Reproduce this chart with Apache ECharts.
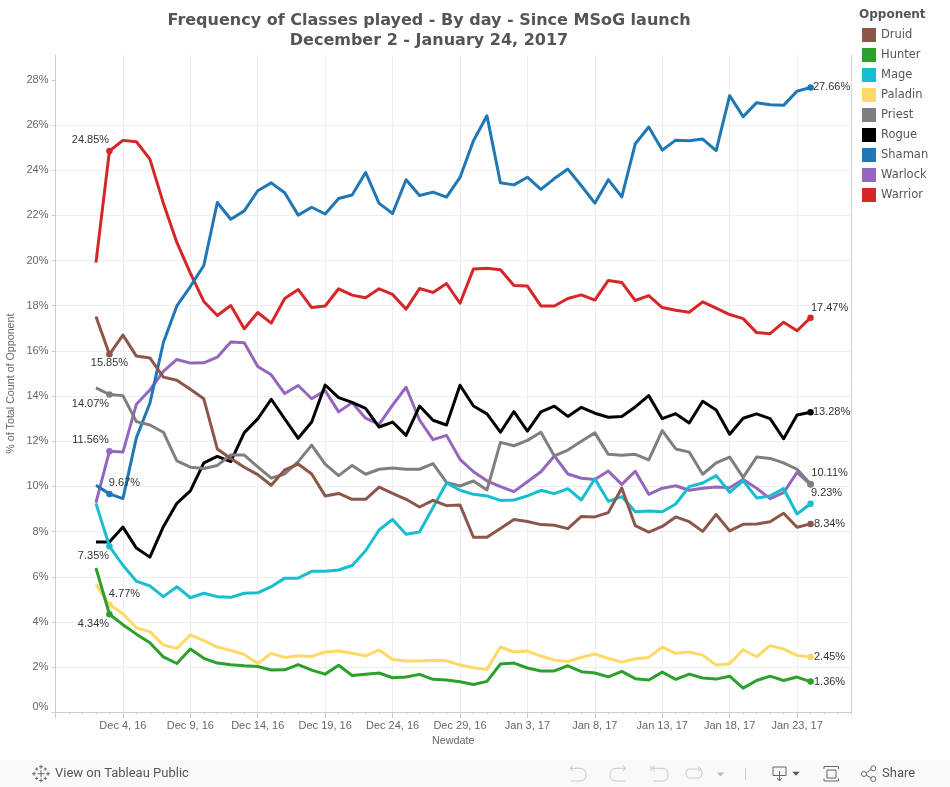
<!DOCTYPE html>
<html><head><meta charset="utf-8">
<style>html,body{margin:0;padding:0;background:#fff}#c{width:950px;height:787px}</style>
<script src="https://cdn.jsdelivr.net/npm/echarts@6/dist/echarts.min.js"></script>
</head><body><div id="c"></div>
<script>
const days = ["Nov 29","Nov 30","Dec 1","Dec 2","Dec 3","Dec 4, 16","Dec 5","Dec 6","Dec 7","Dec 8","Dec 9, 16","Dec 10","Dec 11","Dec 12","Dec 13","Dec 14, 16","Dec 15","Dec 16","Dec 17","Dec 18","Dec 19, 16","Dec 20","Dec 21","Dec 22","Dec 23","Dec 24, 16","Dec 25","Dec 26","Dec 27","Dec 28","Dec 29, 16","Dec 30","Dec 31","Jan 1","Jan 2","Jan 3, 17","Jan 4","Jan 5","Jan 6","Jan 7","Jan 8, 17","Jan 9","Jan 10","Jan 11","Jan 12","Jan 13, 17","Jan 14","Jan 15","Jan 16","Jan 17","Jan 18, 17","Jan 19","Jan 20","Jan 21","Jan 22","Jan 23, 17","Jan 24","Jan 25","Jan 26","Jan 27"];
const leadingEmptyDays = 3;
const classes = ["Druid","Hunter","Mage","Paladin","Priest","Rogue","Shaman","Warlock","Warrior"];
const colors = ["#8c564b","#2ca02c","#17becf","#ffd966","#7f7f7f","#000000","#1f77b4","#9467bd","#d62728"];
const druid = [17.52,15.85,16.70,15.77,15.69,14.84,14.70,14.30,13.88,11.66,11.24,10.85,10.52,10.05,10.73,10.99,10.55,9.58,9.69,9.43,9.43,9.97,9.69,9.43,9.09,9.38,9.15,9.18,7.75,7.75,8.14,8.54,8.45,8.31,8.28,8.13,8.67,8.65,8.84,9.93,8.26,7.98,8.23,8.65,8.44,8.01,8.76,8.03,8.32,8.34,8.44,8.81,8.19,8.34];
const hunter = [6.39,4.34,3.88,3.46,3.08,2.45,2.16,2.80,2.39,2.18,2.11,2.06,2.03,1.87,1.88,2.11,1.87,1.69,2.08,1.63,1.68,1.74,1.53,1.56,1.68,1.46,1.43,1.35,1.23,1.37,2.14,2.18,1.96,1.83,1.83,2.06,1.80,1.74,1.57,1.81,1.49,1.43,1.78,1.46,1.69,1.52,1.47,1.60,1.07,1.41,1.60,1.41,1.56,1.36];
const mage = [9.25,7.35,6.51,5.80,5.60,5.12,5.56,5.07,5.27,5.12,5.09,5.27,5.29,5.56,5.94,5.94,6.24,6.24,6.30,6.50,7.15,8.07,8.54,7.88,7.98,9.07,10.15,9.83,9.65,9.58,9.38,9.40,9.58,9.83,9.68,9.90,9.40,10.34,9.34,9.55,8.88,8.91,8.88,9.22,9.99,10.15,10.48,9.74,10.25,9.49,9.58,9.90,8.78,9.23];
const paladin = [5.66,4.77,4.36,3.74,3.57,2.98,2.83,3.43,3.17,2.89,2.74,2.56,2.16,2.61,2.43,2.50,2.47,2.67,2.71,2.61,2.50,2.76,2.34,2.27,2.27,2.30,2.28,2.09,1.97,1.90,2.89,2.67,2.71,2.49,2.31,2.25,2.43,2.58,2.39,2.22,2.37,2.43,2.89,2.61,2.67,2.53,2.09,2.15,2.77,2.46,2.95,2.80,2.52,2.45];
const priest = [14.36,14.07,14.02,12.87,12.72,12.40,11.13,10.85,10.79,10.93,11.39,11.39,10.87,10.37,10.55,11.10,11.83,10.99,10.48,10.93,10.54,10.76,10.82,10.76,10.76,11.01,10.18,10.02,10.24,9.84,11.95,11.80,12.04,12.40,11.35,11.61,12.00,12.37,11.42,11.38,11.42,11.18,12.47,11.66,11.52,10.54,11.04,11.30,10.40,11.30,11.24,11.04,10.76,10.11];
const rogue = [7.54,7.54,8.20,7.27,6.87,8.22,9.25,9.80,11.04,11.33,11.10,12.38,12.99,13.86,12.99,12.13,12.85,14.49,13.93,13.72,13.46,12.63,12.85,12.26,13.56,12.93,12.72,14.48,13.56,13.21,12.40,13.31,12.45,13.30,13.55,13.10,13.50,13.24,13.06,13.10,13.52,14.02,13.00,13.22,12.81,13.77,13.38,12.31,13.02,13.21,13.00,12.11,13.16,13.28];
const shaman = [10.05,9.67,9.46,12.16,13.68,16.37,17.99,18.85,19.78,22.57,21.83,22.20,23.09,23.44,23.00,22.01,22.36,22.06,22.75,22.90,23.90,22.53,22.08,23.58,22.88,23.03,22.81,23.68,25.30,26.41,23.44,23.35,23.69,23.15,23.63,24.05,23.31,22.54,23.58,22.82,25.17,25.91,24.89,25.33,25.30,25.38,24.87,27.30,26.37,26.99,26.90,26.87,27.50,27.66];
const warlock = [9.28,11.56,11.52,13.64,14.27,15.09,15.62,15.46,15.47,15.72,16.39,16.36,15.31,14.94,14.11,14.47,13.88,14.24,13.30,13.71,13.02,12.75,13.60,14.39,12.94,12.07,12.26,11.20,10.65,10.25,9.99,9.77,10.21,10.65,11.35,10.55,10.36,10.31,10.68,10.09,10.67,9.65,9.92,10.03,9.83,9.92,9.97,9.94,10.31,9.92,9.46,9.72,10.62,10.08];
const warrior = [19.91,24.85,25.32,25.26,24.49,22.54,20.80,19.44,18.19,17.57,18.01,16.98,17.70,17.23,18.32,18.72,17.92,17.99,18.75,18.47,18.35,18.75,18.50,17.85,18.76,18.59,18.98,18.11,19.63,19.66,19.59,18.90,18.87,17.99,17.99,18.32,18.48,18.25,19.12,19.03,18.23,18.45,17.92,17.80,17.71,18.17,17.89,17.61,17.43,16.81,16.76,17.27,16.89,17.47];
const seriesValues = [druid,hunter,mage,paladin,priest,rogue,shaman,warlock,warrior];
const firstLabelOffsets = {Druid:[0,9],Hunter:[-16,10],Mage:[-16,10],Paladin:[15,-11],Priest:[-19,9],Rogue:null,Shaman:[15,-11],Warlock:[-19,-11],Warrior:[-19,-11]};
const lastLabelOffsets = {Druid:[19,0],Hunter:[19,0],Mage:[16,-11],Paladin:[19,0],Priest:[19,-11],Rogue:[21,0],Shaman:[21,-1],Warlock:null,Warrior:[19,-10]};
const noFirstDot = ['Rogue'];
const labelFont = {fontFamily:'"Liberation Sans",Arial,sans-serif',fontSize:11,color:'#333'};

const series = classes.map((name,i)=>{
  const vals = seriesValues[i];
  const last = vals.length-1;
  const data = new Array(leadingEmptyDays).fill(null).concat(vals.map((v,k)=>{
    const off = k===1?firstLabelOffsets[name]:(k===last?lastLabelOffsets[name]:undefined);
    if(k!==1 && k!==last) return v;
    if(k===1 && noFirstDot.includes(name)) return v;
    const item = {value:v,symbol:'circle',symbolSize:6.5};
    if(off) item.label = Object.assign({show:true,position:'inside',offset:off,formatter:()=>v.toFixed(2)+'%'},labelFont);
    return item;
  }));
  return {name,type:'line',data,z:20-i,symbol:'none',showSymbol:true,showAllSymbol:true,
    lineStyle:{width:3,color:colors[i],join:'round'},itemStyle:{color:colors[i]},
    emphasis:{disabled:true},silent:true,animation:false,connectNulls:false};
});

const G='#ccc', axisText='#666', iconLight='#c8c8c8', iconDark='#666';
const isMajor=(i)=>i%5===0;
// toolbar icons: chrome only, drawn as polylines
const poly=(points,stroke)=>({type:'polyline',shape:{points},style:{fill:'none',stroke,lineWidth:1}});
const curve=(a,c,b)=>[0,.25,.5,.75,1].map(t=>[(1-t)*(1-t)*a[0]+2*t*(1-t)*c[0]+t*t*b[0],(1-t)*(1-t)*a[1]+2*t*(1-t)*c[1]+t*t*b[1]]);
const plus=(x,y,a,s)=>[poly([[x-a,y],[x+a,y]],s),poly([[x,y-a],[x,y+a]],s)];
const logo=[[41,773.7,3.5],[41,766.8,2],[41,780.5,2],[34,773.7,2],[48,773.7,2],[36.7,769,1.5],[45.3,769,1.5],[36.7,778.4,1.5],[45.3,778.4,1.5]].flatMap(p=>plus(p[0],p[1],p[2],iconDark));
const undoLike=(xs,dir,s)=>{
  const a=xs, b=xs+10*dir, c=xs+16*dir;
  return [poly([[a,768.3],[b,768.3],...curve([b,768.3],[c,768.3],[c,775]),...curve([c,775],[c,781],[b,781]),[a+dir,781]],s),
          poly([[a+3*dir,765.5],[a,768.3],[a+3*dir,771]],s)];
};
const option={
  animation:false,
  backgroundColor:'#fff',
  title:{text:'Frequency of Classes played - By day - Since MSoG launch\nDecember 2 - January 24, 2017',left:429,top:11,padding:0,textAlign:'center',
    textStyle:{fontFamily:'"DejaVu Sans",sans-serif',fontSize:16,fontWeight:'bold',color:'#555',lineHeight:20}},
  legend:{orient:'vertical',left:862,top:28,padding:0,itemWidth:14,itemHeight:14,itemGap:6,icon:'rect',data:classes,selectedMode:false,
    textStyle:{fontFamily:'"DejaVu Sans",sans-serif',fontSize:11.5,color:'#555'}},
  grid:{left:55.5,right:99,top:55,bottom:74.7,containLabel:false,outerBoundsMode:'none'},
  xAxis:[
    {type:'category',data:days,boundaryGap:false,name:'Newdate',nameLocation:'middle',nameGap:23,nameMoveOverlap:false,
     nameTextStyle:{fontFamily:'"Liberation Sans",Arial,sans-serif',fontSize:10.8,color:axisText},
     axisLine:{lineStyle:{color:G}},
     axisTick:{interval:(i)=>isMajor(i),length:6,lineStyle:{color:G}},
     axisLabel:{interval:(i)=>i>0&&isMajor(i),margin:8,fontFamily:'"Liberation Sans",Arial,sans-serif',fontSize:11,color:axisText},
     splitLine:{show:true,interval:(i)=>i>0&&isMajor(i),lineStyle:{color:'#eee',width:1}}},
    {type:'category',data:days,boundaryGap:false,position:'bottom',
     axisLine:{show:false},axisLabel:{show:false},splitLine:{show:false},
     axisTick:{interval:0,length:2,lineStyle:{color:G}}}
  ],
  yAxis:[
    {type:'value',min:0,max:29.1,interval:2,name:'% of Total Count of Opponent',nameLocation:'middle',nameGap:38.5,nameMoveOverlap:false,
     nameTextStyle:{fontFamily:'"Liberation Sans",Arial,sans-serif',fontSize:10.7,color:axisText},
     axisLine:{show:true,lineStyle:{color:G}},
     axisTick:{show:true,length:4,lineStyle:{color:G},customValues:[0,2,4,6,8,10,12,14,16,18,20,22,24,26,28]},
     axisLabel:{margin:7,formatter:'{value}%',showMaxLabel:false,verticalAlignMinLabel:'bottom',fontFamily:'"Liberation Sans",Arial,sans-serif',fontSize:11,color:axisText},
     splitLine:{show:true,showMaxLine:false,showMinLine:false,lineStyle:{color:'#eee',width:1}}},
    {type:'value',min:0,max:29.1,position:'right',axisLine:{show:true,lineStyle:{color:'#d4d4d4'}},axisTick:{show:false},axisLabel:{show:false},splitLine:{show:false}}
  ],
  series,
  graphic:[
    {type:'text',x:859,y:15,style:{text:'Opponent',font:'bold 12px "DejaVu Sans",sans-serif',fill:'#555',verticalAlign:'middle'}},
    {type:'rect',shape:{x:0,y:760,width:950,height:27},style:{fill:'#f9f9f9'}},
    {type:'text',x:55,y:773.5,style:{text:'View on Tableau Public',font:'13px Roboto,sans-serif',fill:'#555',verticalAlign:'middle'}},
    {type:'text',x:882,y:773.5,style:{text:'Share',font:'13px Roboto,sans-serif',fill:'#555',verticalAlign:'middle'}},
    ...logo,
    ...undoLike(570,1,iconLight),
    ...undoLike(626,-1,iconLight),
    ...undoLike(652,1,iconLight),
    poly([[651,766],[651,771]],iconLight),
    poly([[690,769],[699,769],...curve([699,769],[702,769],[702,773]),...curve([702,773],[702,778],[698,778]),[690,778],...curve([690,778],[686,778],[686,773]),...curve([686,773],[686,769],[690,769])],iconLight),
    poly([[698,766.5],[701,769],[698,771.5]],iconLight),
    {type:'polygon',shape:{points:[[717,772.5],[724,772.5],[720.5,776.5]]},style:{fill:'#bbb'}},
    {type:'line',shape:{x1:745.5,y1:767.7,x2:745.5,y2:780},style:{stroke:'#ccc',lineWidth:1}},
    poly([[779,775.5],[773,775.5],[773,767],[786,767],[786,775.5],[780,775.5]],iconDark),
    poly([[779.5,771],[779.5,780]],iconDark),
    poly([[777,778],[779.5,781],[782,778]],iconDark),
    {type:'polygon',shape:{points:[[792.3,771.7],[799.7,771.7],[796,775.7]]},style:{fill:'#555'}},
    poly([[824,769],[824,766.5],[838.5,766.5],[838.5,769]],iconDark),
    poly([[824,778.5],[824,781],[838.5,781],[838.5,778.5]],iconDark),
    poly([[827,770],[836,770],[836,778],[827,778],[827,770]],iconDark),
    poly([[866.2,773],[871,769.5]],iconDark),
    poly([[866.2,775],[871,778]],iconDark),
    {type:'circle',shape:{cx:873.3,cy:768.3,r:2.5},style:{fill:'none',stroke:iconDark,lineWidth:1}},
    {type:'circle',shape:{cx:873.3,cy:779,r:2.5},style:{fill:'none',stroke:iconDark,lineWidth:1}},
    {type:'circle',shape:{cx:864,cy:774,r:2.5},style:{fill:'none',stroke:iconDark,lineWidth:1}}
  ]
};
echarts.init(document.getElementById('c'),null,{renderer:'canvas'}).setOption(option);
</script></body></html>
